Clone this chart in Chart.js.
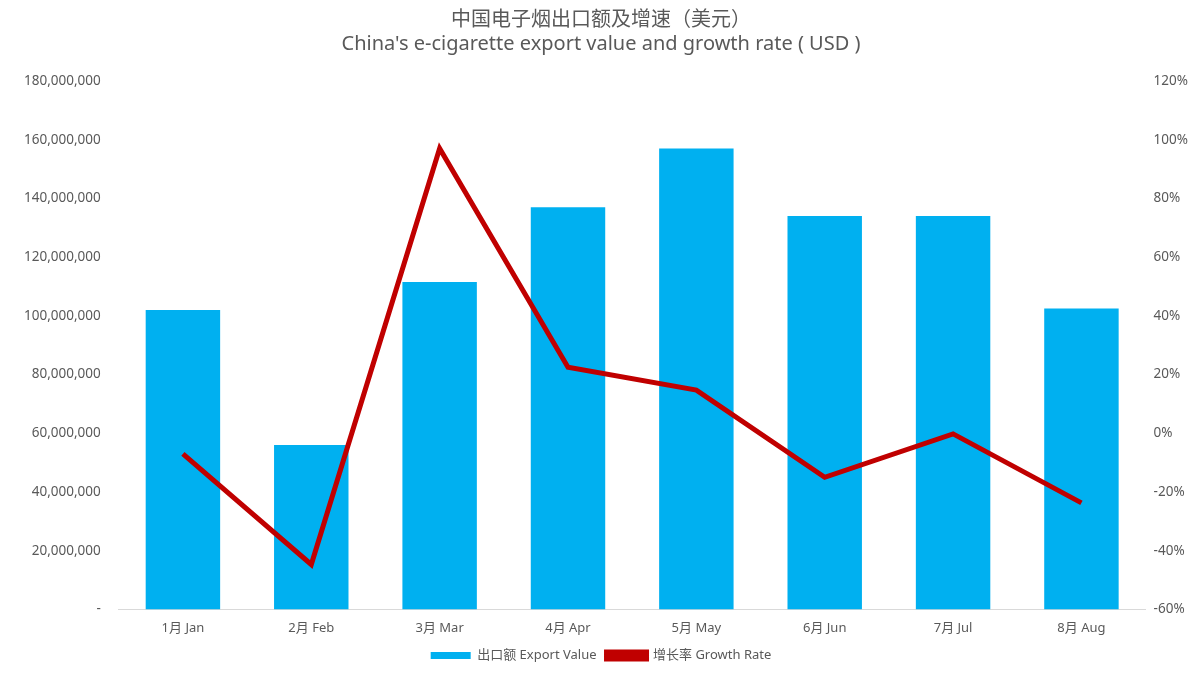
<!DOCTYPE html>
<html>
<head>
<meta charset="utf-8">
<script src="https://cdn.jsdelivr.net/npm/chart.js@4"></script>
<style>
  body { margin: 0; background: #fff; }
  #wrap { width: 1200px; height: 680px; }
</style>
</head>
<body>
<div id="wrap"><canvas id="c"></canvas></div>
<script>
// data
const months = ["1月 Jan", "2月 Feb", "3月 Mar", "4月 Apr", "5月 May", "6月 Jun", "7月 Jul", "8月 Aug"];
const exportValue = [102000000, 56000000, 111500000, 137000000, 157000000, 134000000, 134000000, 102500000];
const growthRate = [-7, -44.7, 97, 22.5, 14.7, -15, -0.2, -23.7];

Chart.defaults.font.family = "'Noto Sans', 'Noto Sans CJK SC', sans-serif";
Chart.defaults.color = "#595959";

new Chart(document.getElementById("c"), {
  data: {
    labels: months,
    datasets: [
      {
        type: "line",
        label: "增长率 Growth Rate",
        data: growthRate,
        yAxisID: "y2",
        borderColor: "#C00000",
        backgroundColor: "#C00000",
        borderWidth: 5,
        pointRadius: 0,
        tension: 0,
        order: 0,
      },
      {
        type: "bar",
        label: "出口额 Export Value",
        data: exportValue,
        yAxisID: "y",
        backgroundColor: "#00B0F0",
        barPercentage: 0.58,
        categoryPercentage: 1,
        order: 1,
      },
    ],
  },
  options: {
    responsive: true,
    maintainAspectRatio: false,
    animation: false,
    layout: { padding: { left: 14, right: 12, top: 2, bottom: 8 } },
    plugins: {
      title: {
        display: true,
        text: ["中国电子烟出口额及增速（美元）", "China's e-cigarette export value and growth rate ( USD )"],
        font: { size: 20, weight: "normal" },
        color: "#595959",
        padding: { top: 6, bottom: 25 },
      },
      legend: {
        position: "bottom",
        reverse: true,
        labels: { font: { size: 13 }, boxWidth: 40, boxHeight: 7, color: "#595959" },
      },
    },
    scales: {
      x: {
        grid: { display: false },
        border: { color: "#d9d9d9" },
        ticks: { font: { size: 13 } },
      },
      y: {
        position: "left",
        min: 0,
        max: 180000000,
        grid: { display: false },
        border: { display: false },
        ticks: {
          stepSize: 20000000,
          font: { size: 13.5 },
          padding: 10,
          callback: (v) => (v === 0 ? "-" : v.toLocaleString("en-US")),
        },
      },
      y2: {
        position: "right",
        min: -60,
        max: 120,
        grid: { display: false },
        border: { display: false },
        ticks: { stepSize: 20, font: { size: 13.5 }, padding: 0, callback: (v) => v + "%" },
      },
    },
  },
});
</script>
</body>
</html>
